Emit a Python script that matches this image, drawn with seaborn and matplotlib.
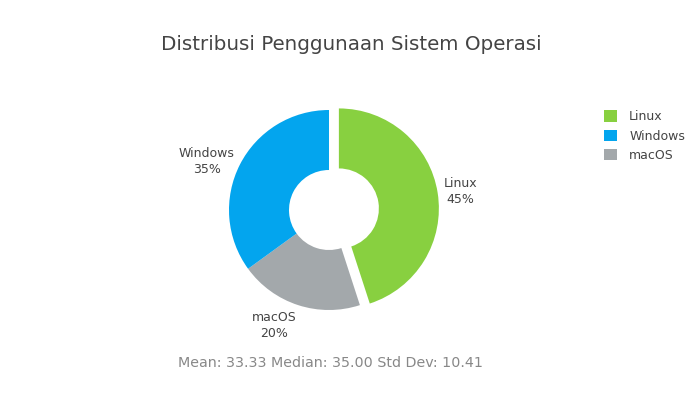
import numpy as np
import seaborn as sns
import matplotlib.pyplot as plt
from matplotlib.patches import Patch

# data
os_names = ["Linux", "Windows", "macOS"]
os_share = [45, 35, 20]
os_colors = ["#88D040", "#03A5EE", "#A3A8AB"]
pull_list = [10, 0, 0]
stats_str = "Mean: 33.33 Median: 35.00 Std Dev: 10.41"
title_str = "Distribusi Penggunaan Sistem Operasi"

# clockwise drawing order from 12 o'clock
draw_order = ["Linux", "macOS", "Windows"]

sns.set_theme(style="white")
plt.rcParams['font.family'] = ['DejaVu Sans']

fig = plt.figure(figsize=(7, 4), dpi=100)
ax = fig.add_axes([0, 0, 1, 1])

idx = [os_names.index(n) for n in draw_order]
wedges, _ = ax.pie(
    [os_share[i] for i in idx],
    colors=[os_colors[i] for i in idx],
    explode=[pull_list[i] for i in idx],
    startangle=90, counterclock=False,
    radius=100, center=(329, 190),
    wedgeprops=dict(width=60, linewidth=0),
)

# outside labels, anchored by the side of the wedge they sit on
for w, i in zip(wedges, idx):
    theta = np.deg2rad((w.theta1 + w.theta2) / 2)
    c, s = np.cos(theta), np.sin(theta)
    px = w.center[0] + (w.r + 6) * c
    py = w.center[1] + (w.r + 6) * s
    ha = 'left' if c > 0.3 else ('right' if c < -0.3 else 'center')
    va = 'bottom' if s > 0.7 else ('top' if s < -0.7 else 'center')
    ax.text(px, py, "%s\n%d%%" % (os_names[i], os_share[i]),
            ha=ha, va=va, multialignment='center',
            fontsize=9, color="#444444", linespacing=1.3)

ax.set_xlim(0, 700)
ax.set_ylim(0, 400)
ax.set_aspect('auto')
ax.axis('off')

fig.text(351 / 700, 1 - 44 / 400, title_str, ha='center', va='center',
         fontsize=14.3, color="#444444")
fig.text(330 / 700, 1 - 363 / 400, stats_str, ha='center', va='center',
         fontsize=10.3, color="#888888")

handles = [Patch(facecolor=col, edgecolor='none', label=n)
           for n, col in zip(os_names, os_colors)]
fig.legend(handles=handles, loc='upper left', bbox_to_anchor=(598 / 700, 1 - 104 / 400),
           frameon=False, fontsize=9, handlelength=1.0, handleheight=1.0,
           handletextpad=1.0, labelspacing=0.5, borderpad=0,
           labelcolor="#444444")

fig.savefig("out.png", dpi=100)
